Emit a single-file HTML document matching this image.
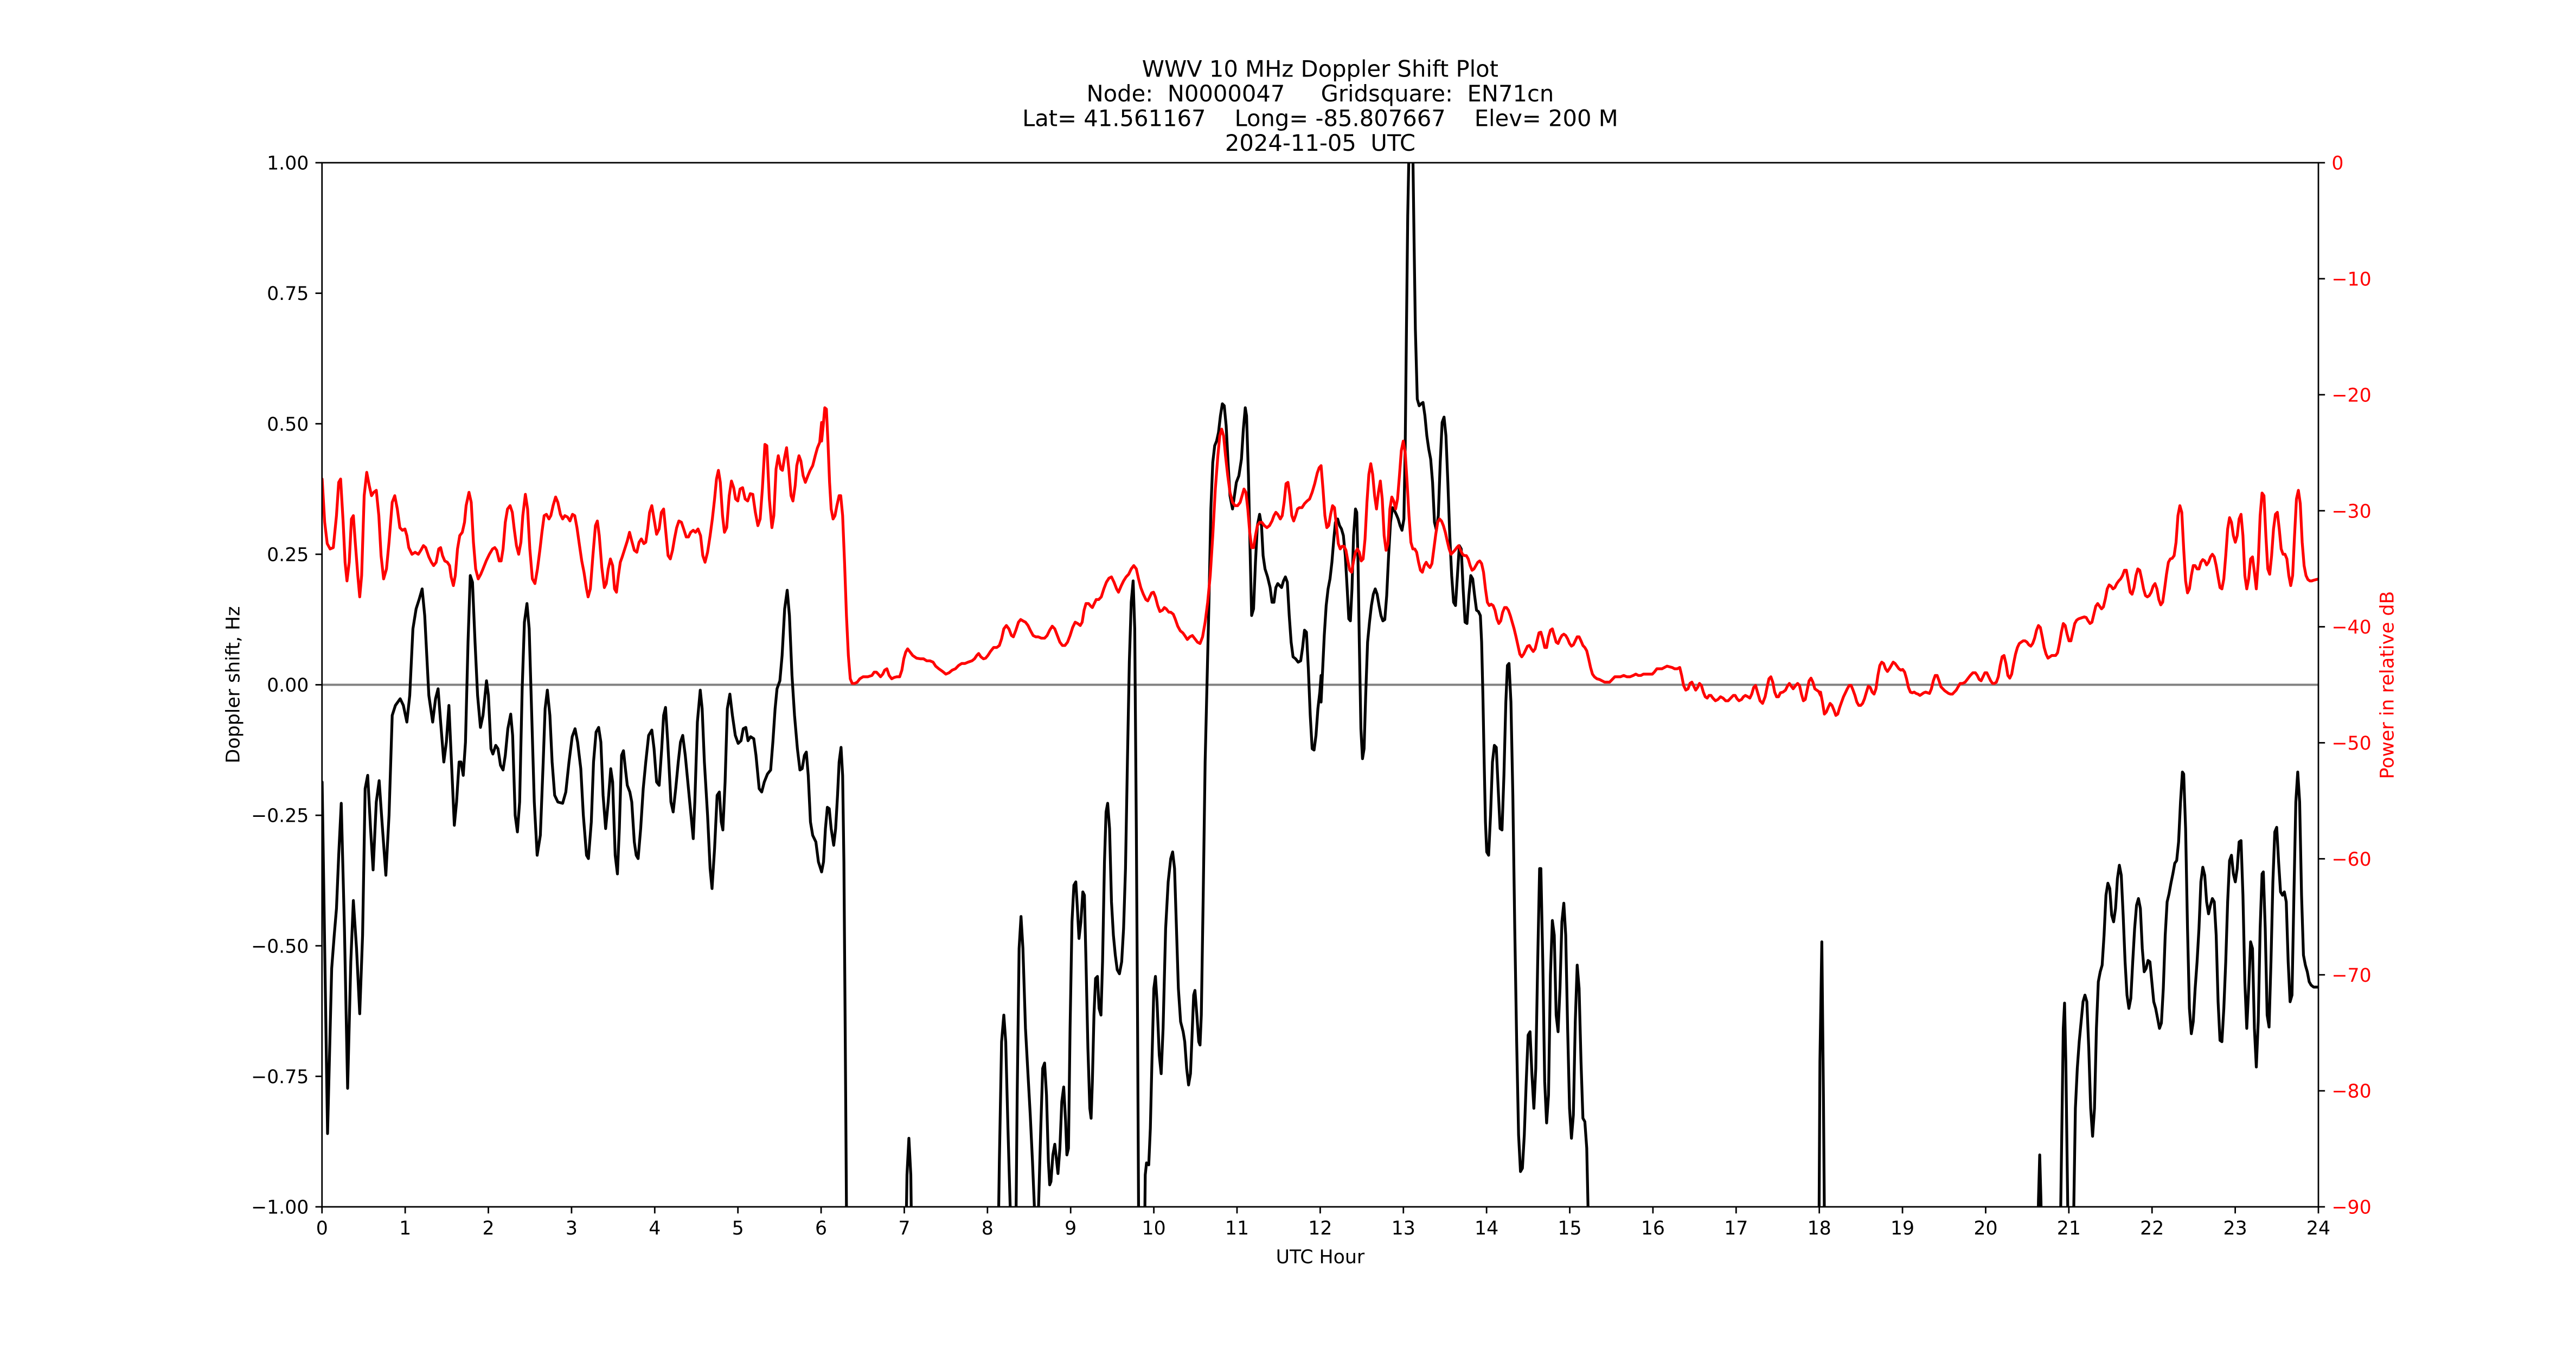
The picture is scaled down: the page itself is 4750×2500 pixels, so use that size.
<!DOCTYPE html>
<html>
<head>
<meta charset="utf-8">
<style>
  html,body{margin:0;padding:0;background:#fff;}
  svg{display:block;}
  text{font-family:"DejaVu Sans","Liberation Sans",sans-serif;white-space:pre;}
  .tk{font-size:34.72px;}
  .ttl{font-size:41.67px;}
  .blk{fill:none;stroke:#000;stroke-width:5.2;stroke-linejoin:round;stroke-linecap:round;}
  .red{fill:none;stroke:#ff0000;stroke-width:5.2;stroke-linejoin:round;stroke-linecap:round;}
</style>
</head>
<body>
<svg width="4750" height="2500" viewBox="0 0 4750 2500" xmlns="http://www.w3.org/2000/svg" xml:space="preserve">
<rect x="0" y="0" width="4750" height="2500" fill="#fff"/>
<defs>
  <clipPath id="ax"><rect x="593.75" y="300" width="3681.25" height="1925"/></clipPath>
</defs>

<!-- Title -->
<text class="ttl" x="2434.4" y="141.5" text-anchor="middle">WWV 10 MHz Doppler Shift Plot</text>
<text class="ttl" x="2434.4" y="187" text-anchor="middle">Node:  N0000047     Gridsquare:  EN71cn</text>
<text class="ttl" x="2434.4" y="232.5" text-anchor="middle">Lat= 41.561167    Long= -85.807667    Elev= 200 M</text>
<text class="ttl" x="2434.4" y="278" text-anchor="middle">2024-11-05  UTC</text>

<g clip-path="url(#ax)">
  <!-- zero line -->
  <line x1="593.75" y1="1262.5" x2="4275" y2="1262.5" stroke="#808080" stroke-width="4"/>

  <!-- Black (Doppler) strips -->
  <g transform="translate(594,300) scale(0.587372,1.227679)">
    <path class="blk" vector-effect="non-scaling-stroke" d="M0,930 L17,1458 30,1210 38,1160 45,1120 52,1040 60,962 70,1150 80,1390 90,1200 98,1108 108,1180 118,1278 127,1160 135,940 143,920 152,1000 160,1062 170,960 179,928 188,990 200,1070 210,980 220,830 230,815 245,805 255,815 266,840 275,800 285,700 295,670 305,655 314,640 322,680 335,800 347,840 356,805 364,790 372,840 382,900 390,870 398,815 406,900 415,995 422,960 430,900 436,900 443,920 450,870 458,720 465,620 472,630 480,720 488,800 497,848 505,830 516,778 522,800 530,880 536,888 545,875 552,880 560,905 568,912 575,890 583,850 592,828 598,860 606,980 613,1005 620,960 628,790 635,690 643,662 650,700 658,830 666,960 675,1040 685,1010 694,900 700,820 707,792 715,830 722,900 730,950 740,960 755,962 765,945 775,900 785,862 794,850 802,870 812,910 820,980 830,1040 836,1045 845,990 852,900 860,855 868,848 875,870 882,950 890,1000 898,960 906,910 912,930 920,1040 927,1068 933,1000 940,890 946,883 952,910 958,935 966,945 972,960 980,1020 986,1040 992,1045 1000,1000 1008,940 1016,900 1025,860 1035,852 1042,880 1050,930 1058,935 1066,880 1072,830 1078,818 1085,870 1095,960 1102,975 1110,940 1118,900 1125,870 1132,860 1140,890 1150,940 1158,980 1165,1015 1170,960 1178,840 1187,792 1193,820 1200,900 1210,980 1218,1060 1224,1090 1232,1030 1240,950 1247,945 1253,990 1258,1002 1265,930 1272,820 1280,798 1288,830 1297,860 1306,872 1315,868 1322,850 1330,848 1337,868 1345,862 1355,865 1362,890 1372,940 1380,945 1388,930 1398,918 1408,912 1415,870 1422,820 1428,790 1437,778 1444,740 1452,670 1460,642 1467,680 1475,770 1483,830 1492,880 1500,912 1507,910 1514,890 1520,885 1526,920 1533,990 1540,1010 1550,1020 1558,1050 1568,1065"/>
  </g>
  <g transform="translate(1515,300) scale(0.587372,1.227679)">
    <path class="blk" vector-effect="non-scaling-stroke" d="M0,1065 L6,1050 12,1000 18,968 24,970 30,1000 38,1025 44,1000 50,950 55,900 61,878 66,920 70,1050 74,1300 78,1568 80,1700 262,1700 268,1520 274,1465 280,1520 285,1700 552,1700 558,1500 565,1320 572,1280 578,1320 585,1450 592,1568 598,1700 608,1700 614,1400 620,1180 626,1132 632,1180 640,1300 648,1370 655,1430 662,1500 668,1568 675,1650 681,1568 688,1450 694,1360 700,1352 706,1400 712,1500 716,1535 720,1530 726,1490 732,1474 738,1500 742,1518 748,1480 754,1410 760,1388 766,1440 770,1490 775,1480 780,1300 786,1140 792,1085 798,1080 803,1120 808,1165 814,1140 820,1095 825,1100 830,1200 836,1330 842,1420 846,1435 850,1380 855,1280 860,1225 866,1222 871,1270 877,1280 882,1200 888,1050 893,975 898,962 904,1000 910,1110 916,1160 922,1190 928,1212 935,1218 942,1200 948,1150 954,1060 960,900 966,750 972,660 978,628 983,700 988,1000 992,1300 995,1568 998,1700 1012,1700 1016,1520 1020,1502 1027,1505 1032,1450 1037,1350 1043,1240 1048,1222 1053,1260 1060,1340 1066,1368 1072,1300 1080,1150 1088,1080 1096,1045 1102,1035 1108,1060 1114,1150 1120,1240 1127,1290 1135,1305 1140,1320 1146,1360 1152,1385 1158,1368 1163,1310 1168,1250 1172,1243 1178,1280 1184,1320 1188,1325 1192,1280 1198,1100 1204,900 1210,780 1216,660 1222,520 1228,450 1234,425 1240,418 1246,405 1252,380 1258,362 1264,365 1270,395 1276,450 1282,500 1290,520 1296,500 1302,480 1310,470 1318,445 1324,400 1330,368 1334,380 1340,470 1346,600 1350,680 1356,670 1362,600 1368,545 1375,528 1381,545 1386,590 1392,610 1400,622 1408,638 1414,660 1420,660 1426,638 1432,632 1438,635 1444,638 1450,628 1456,622 1462,630 1468,680 1474,720 1480,742 1488,745 1496,750 1504,748 1510,728 1516,702 1522,705 1528,760 1534,830 1540,880 1546,882 1552,860 1558,820 1564,795 1568,770"/>
  </g>
  <g transform="translate(2436,300) scale(0.587372,1.227679)">
    <path class="blk" vector-effect="non-scaling-stroke" d="M0,810 L5,760 10,710 16,665 22,640 28,625 34,600 40,565 45,540 52,535 58,545 64,550 70,560 76,590 82,640 87,685 92,688 97,640 102,560 108,520 112,525 116,600 120,720 125,850 130,895 135,880 140,800 146,720 152,690 158,665 164,648 170,640 176,648 182,665 188,680 194,688 200,686 206,650 212,590 218,540 224,518 230,522 236,528 242,535 248,545 254,552 260,535 264,430 268,250 272,80 276,-20 280,-60 285,-60 288,-20 292,120 296,250 302,355 308,365 314,362 320,360 326,380 332,410 338,430 344,445 350,480 356,540 362,552 368,530 374,450 380,390 386,382 392,410 398,480 404,560 410,620 416,660 422,665 428,620 434,575 440,580 446,640 452,690 458,692 464,650 470,620 476,625 482,650 488,672 494,674 500,680 504,720 508,800 512,900 516,990 520,1035 526,1040 532,980 538,900 544,875 550,878 556,940 562,1000 568,1002 574,920 580,810 585,755 590,752 596,810 602,950 608,1150 614,1320 620,1460 626,1515 632,1510 638,1460 644,1380 650,1310 656,1305 662,1370 668,1420 674,1360 680,1200 686,1060 690,1060 696,1200 702,1380 708,1442 714,1400 720,1220 726,1138 732,1160 738,1280 744,1305 750,1240 756,1140 762,1112 768,1160 774,1300 780,1420 786,1465 792,1430 798,1290 804,1205 810,1240 816,1350 822,1435 828,1440 834,1480 838,1568 842,1700"/>
  </g>
  <g transform="translate(3357,300) scale(0.587372,1.227679)">
    <path class="blk" vector-effect="non-scaling-stroke" d="M-6,1700 L-2,1350 4,1170 9,1400 14,1700 680,1700 684,1560 688,1490 692,1560 696,1700 750,1700 756,1500 762,1300 766,1262 770,1350 776,1568 780,1700 790,1700 795,1568 800,1420 806,1360 812,1320 818,1290 824,1260 830,1250 836,1260 842,1330 848,1420 854,1462 860,1420 866,1300 872,1230 878,1215 884,1205 890,1160 896,1100 902,1082 908,1090 914,1130 920,1140 926,1120 932,1075 938,1055 944,1070 950,1130 956,1200 962,1250 968,1270 974,1255 980,1200 986,1150 992,1115 998,1105 1004,1120 1010,1180 1016,1215 1022,1210 1028,1198 1034,1200 1040,1230 1046,1260 1052,1270 1058,1285 1064,1300 1070,1292 1076,1240 1082,1160 1088,1110 1094,1098 1100,1082 1106,1068 1112,1052 1118,1048 1124,1020 1130,960 1136,915 1140,918 1146,1000 1152,1150 1158,1270 1164,1308 1170,1290 1176,1240 1182,1200 1188,1150 1194,1080 1200,1058 1206,1070 1212,1110 1218,1128 1224,1115 1230,1105 1236,1110 1242,1160 1248,1260 1254,1318 1260,1320 1266,1270 1272,1200 1278,1110 1284,1048 1290,1040 1296,1068 1302,1080 1308,1060 1314,1020 1320,1018 1326,1100 1332,1230 1338,1300 1344,1240 1350,1170 1356,1180 1362,1300 1368,1358 1374,1290 1380,1150 1386,1068 1390,1065 1396,1150 1402,1280 1408,1298 1414,1200 1420,1080 1426,1005 1432,998 1438,1050 1444,1095 1450,1100 1456,1095 1462,1110 1468,1200 1474,1260 1480,1250 1486,1100 1492,960 1498,915 1504,960 1510,1100 1516,1190 1522,1205 1528,1215 1534,1230 1540,1235 1548,1238 1556,1238 1564,1238"/>
  </g>

  <!-- Red (power) strips -->
  <g transform="translate(594,300) scale(0.587372,1.227679)">
    <path class="red" vector-effect="non-scaling-stroke" d="M0,475 L8,540 16,572 25,580 35,578 45,530 52,480 58,475 66,540 72,600 78,628 85,600 92,535 98,530 104,570 112,620 118,652 124,620 132,500 140,465 148,485 155,500 162,495 170,492 178,530 185,590 193,625 202,610 210,570 220,510 228,500 236,520 244,548 252,552 260,550 266,560 272,578 282,588 292,585 302,588 310,582 318,575 325,578 335,592 343,600 350,605 358,600 366,580 372,578 378,590 385,598 393,600 400,605 405,622 412,635 418,620 425,580 432,560 440,555 447,540 452,515 461,495 468,510 475,570 482,610 490,625 498,618 505,610 515,598 525,588 535,580 542,578 548,582 556,598 562,598 568,580 575,540 582,520 590,515 597,525 603,550 610,575 617,588 624,570 630,530 638,498 645,520 652,580 660,625 668,632 676,610 684,580 690,555 697,530 704,528 712,535 718,530 725,515 733,502 740,510 748,528 755,535 762,530 770,532 778,538 786,528 793,530 800,548 808,575 815,598 822,615 830,640 835,652 842,640 850,590 858,545 864,538 870,560 878,608 886,638 892,632 898,610 905,595 912,605 918,640 924,645 930,620 936,600 942,592 950,580 958,568 965,555 972,568 980,582 988,585 995,570 1002,565 1010,572 1016,570 1022,550 1028,525 1035,515 1042,535 1050,558 1058,550 1065,525 1072,520 1078,550 1086,590 1093,595 1100,582 1106,565 1113,548 1120,538 1128,540 1135,550 1143,562 1150,562 1157,555 1165,552 1172,555 1180,550 1188,560 1195,590 1202,600 1210,585 1218,560 1225,535 1232,505 1238,475 1244,462 1250,480 1257,530 1263,555 1270,548 1278,500 1285,478 1292,488 1298,505 1305,508 1312,490 1320,488 1328,505 1336,508 1344,497 1352,498 1360,525 1368,545 1375,535 1382,490 1390,423 1396,425 1404,505 1412,548 1418,530 1425,460 1432,440 1440,460 1445,462 1452,442 1458,428 1465,460 1472,500 1478,508 1485,485 1490,455 1497,440 1503,448 1510,470 1517,480 1525,470 1532,462 1540,455 1548,440 1555,428 1562,420 1568,390"/>
  </g>
  <g transform="translate(1515,300) scale(0.587372,1.227679)">
    <path class="red" vector-effect="non-scaling-stroke" d="M0,418 L5,395 10,368 15,370 20,420 25,480 30,520 36,535 42,530 48,515 55,500 60,500 66,530 72,600 78,680 84,740 90,775 96,782 104,782 112,780 120,775 130,772 145,772 158,770 165,765 172,765 178,768 185,772 192,768 198,762 205,760 212,770 220,775 228,773 236,772 245,772 252,762 258,745 264,735 270,730 278,735 286,740 298,744 310,745 320,745 330,748 340,748 350,750 358,756 368,760 380,764 390,768 400,766 410,762 420,760 430,755 440,752 450,752 460,750 472,748 480,745 487,740 493,737 500,742 508,745 515,744 522,740 530,734 540,728 550,728 558,725 565,715 572,700 580,695 588,700 596,710 602,712 610,702 618,690 625,686 632,688 640,690 648,695 656,703 664,710 672,712 680,712 690,714 700,714 708,710 716,702 724,696 732,700 740,710 748,720 756,725 764,725 772,720 780,710 788,698 796,690 804,692 812,695 818,690 824,672 830,662 838,662 845,666 850,668 856,662 862,656 870,656 878,652 886,640 894,630 902,624 910,622 918,630 926,640 932,645 940,636 948,628 956,622 964,618 972,610 980,605 988,610 995,625 1002,638 1010,648 1018,656 1024,658 1030,652 1036,646 1042,645 1048,652 1055,665 1062,674 1070,672 1076,668 1082,670 1090,675 1096,675 1104,678 1110,685 1118,696 1126,703 1134,706 1140,710 1148,716 1156,712 1164,710 1172,715 1180,720 1188,722 1196,712 1204,690 1212,660 1220,620 1228,560 1236,490 1244,440 1250,410 1256,400 1262,410 1268,440 1275,470 1282,495 1290,510 1298,515 1306,515 1314,510 1320,500 1326,490 1332,495 1338,520 1344,555 1350,578 1356,578 1362,560 1368,545 1375,540 1382,540 1390,545 1398,548 1406,545 1414,538 1420,530 1426,525 1432,528 1440,535 1446,530 1452,510 1458,482 1464,480 1470,500 1476,530 1482,538 1488,530 1494,520 1500,518 1508,518 1516,512 1524,508 1532,505 1540,495 1548,482 1556,466 1562,458 1568,455"/>
  </g>
  <g transform="translate(2436,300) scale(0.587372,1.227679)">
    <path class="red" vector-effect="non-scaling-stroke" d="M0,455 L6,490 12,530 18,548 24,545 30,528 36,515 42,518 48,545 54,572 60,580 66,576 72,576 78,582 84,598 90,612 96,615 102,598 108,585 114,580 120,585 126,598 132,595 138,565 144,510 150,468 156,452 162,468 168,500 174,520 180,495 186,478 192,505 198,560 204,582 210,572 216,520 222,502 228,508 234,520 240,505 246,470 252,432 258,418 264,435 270,480 276,530 282,570 288,580 294,580 300,585 306,600 312,612 318,615 324,605 330,600 336,605 342,608 348,602 354,580 360,558 366,540 372,535 378,538 384,545 390,555 396,568 402,580 408,588 414,585 420,582 426,578 432,575 438,582 444,588 450,590 456,590 462,595 468,605 474,612 480,610 486,605 492,600 498,598 504,602 510,615 516,640 522,660 528,665 534,663 540,665 546,672 552,685 558,692 564,688 570,675 576,668 582,668 588,672 594,680 600,690 606,700 612,712 618,725 624,738 630,742 636,738 642,732 648,726 654,725 660,730 666,734 672,730 678,718 684,706 690,705 696,715 702,728 708,728 714,712 720,702 726,700 732,710 738,720 744,722 750,715 756,710 762,708 768,710 774,715 780,722 786,726 792,724 798,718 804,712 810,712 816,718 822,725 828,728 834,733 840,745 846,758 852,768 858,772 866,775 874,776 882,778 890,780 898,780 906,780 914,776 922,772 930,772 940,772 950,770 960,772 970,772 980,770 988,768 996,770 1004,770 1012,768 1020,768 1030,768 1040,768 1046,765 1054,760 1062,760 1070,760 1078,758 1086,756 1094,757 1102,758 1110,760 1118,760 1126,758 1132,770 1138,785 1145,792 1152,790 1158,782 1164,780 1170,786 1176,792 1182,788 1188,782 1194,785 1200,795 1206,802 1212,804 1218,800 1224,800 1230,804 1238,808 1246,806 1254,802 1262,804 1270,808 1278,808 1286,804 1294,800 1300,800 1306,805 1312,808 1320,806 1326,802 1332,800 1340,802 1346,804 1352,798 1358,788 1364,785 1370,795 1378,808 1386,812 1394,802 1400,788 1406,775 1412,772 1418,780 1424,795 1430,802 1436,802 1442,796 1450,795 1458,792 1464,786 1470,782 1476,786 1482,790 1490,785 1496,782 1502,785 1508,798 1514,808 1520,806 1526,792 1532,778 1538,774 1544,780 1550,790 1556,792 1562,794 1568,800"/>
  </g>
  <g transform="translate(3357,300) scale(0.587372,1.227679)">
    <path class="red" vector-effect="non-scaling-stroke" d="M0,795 L6,810 12,828 18,825 24,818 30,812 36,815 42,822 48,830 54,828 60,818 66,810 72,802 78,796 84,790 90,785 96,785 102,792 108,800 114,810 120,815 126,815 132,812 138,805 144,795 150,786 156,788 162,795 168,798 174,790 180,770 186,755 192,750 198,752 204,760 210,764 216,760 222,755 228,750 234,752 240,756 246,760 252,762 258,761 264,765 270,775 276,788 282,795 288,796 294,795 300,797 306,798 312,800 318,798 324,796 330,795 336,796 342,797 348,790 354,778 360,770 366,770 372,778 378,787 384,790 390,793 396,795 402,797 408,798 414,798 420,795 426,792 432,787 438,782 446,782 454,780 462,775 470,770 478,766 486,766 492,770 498,776 504,778 510,772 516,766 522,766 528,772 534,778 540,782 546,782 552,780 558,772 564,755 570,742 576,740 582,752 588,770 594,774 600,768 606,752 612,738 618,728 624,722 630,720 636,718 642,718 648,720 654,724 660,726 666,722 672,714 678,702 684,695 690,698 696,712 702,728 708,738 714,744 720,742 726,740 732,740 738,740 744,736 750,722 756,705 762,692 768,695 774,708 780,718 786,718 792,705 798,692 804,687 810,685 816,684 822,683 828,682 834,683 840,688 846,692 852,690 858,678 864,666 870,662 876,666 882,670 888,667 894,655 900,640 906,634 912,636 918,640 924,638 930,632 936,628 942,625 948,620 954,612 960,612 966,628 972,645 978,648 984,638 990,620 996,610 1002,612 1008,625 1014,640 1020,650 1026,652 1032,650 1038,645 1044,636 1050,632 1056,640 1062,656 1068,664 1074,660 1080,640 1086,618 1092,600 1098,595 1104,594 1110,590 1116,570 1122,530 1128,515 1134,525 1140,580 1146,628 1152,646 1158,640 1164,620 1170,605 1176,605 1182,610 1188,610 1194,600 1200,596 1206,598 1212,604 1218,600 1224,592 1230,588 1236,592 1242,605 1248,622 1254,638 1260,640 1266,625 1272,590 1278,550 1284,533 1290,540 1296,560 1302,570 1308,560 1314,535 1320,528 1326,560 1332,620 1338,640 1344,625 1350,595 1356,592 1362,615 1368,640 1374,600 1380,530 1386,496 1392,500 1398,560 1404,610 1410,618 1416,590 1422,550 1428,528 1434,525 1440,550 1446,580 1452,588 1458,588 1464,595 1470,620 1476,635 1482,620 1488,560 1494,505 1500,492 1506,512 1512,570 1518,605 1524,620 1530,626 1536,628 1542,628 1548,627 1556,626 1564,625"/>
  </g>
</g>

<!-- Spines -->
<rect x="593.75" y="300" width="3681.25" height="1925" fill="none" stroke="#000" stroke-width="2.78"/>

<!-- Left ticks -->
<g stroke="#000" stroke-width="2.78">
  <line x1="581.6" y1="300" x2="593.75" y2="300"/>
  <line x1="581.6" y1="540.63" x2="593.75" y2="540.63"/>
  <line x1="581.6" y1="781.25" x2="593.75" y2="781.25"/>
  <line x1="581.6" y1="1021.88" x2="593.75" y2="1021.88"/>
  <line x1="581.6" y1="1262.5" x2="593.75" y2="1262.5"/>
  <line x1="581.6" y1="1503.13" x2="593.75" y2="1503.13"/>
  <line x1="581.6" y1="1743.75" x2="593.75" y2="1743.75"/>
  <line x1="581.6" y1="1984.38" x2="593.75" y2="1984.38"/>
  <line x1="581.6" y1="2225" x2="593.75" y2="2225"/>
</g>
<g class="tk" text-anchor="end" fill="#000">
  <text class="tk" x="569.4" y="312.6">1.00</text>
  <text class="tk" x="569.4" y="553.2">0.75</text>
  <text class="tk" x="569.4" y="793.8">0.50</text>
  <text class="tk" x="569.4" y="1034.5">0.25</text>
  <text class="tk" x="569.4" y="1275.1">0.00</text>
  <text class="tk" x="569.4" y="1515.7">−0.25</text>
  <text class="tk" x="569.4" y="1756.3">−0.50</text>
  <text class="tk" x="569.4" y="1997">−0.75</text>
  <text class="tk" x="569.4" y="2237.6">−1.00</text>
</g>

<!-- Right ticks -->
<g stroke="#000" stroke-width="2.78">
  <line x1="4275" y1="300" x2="4287.15" y2="300"/>
  <line x1="4275" y1="513.89" x2="4287.15" y2="513.89"/>
  <line x1="4275" y1="727.78" x2="4287.15" y2="727.78"/>
  <line x1="4275" y1="941.67" x2="4287.15" y2="941.67"/>
  <line x1="4275" y1="1155.56" x2="4287.15" y2="1155.56"/>
  <line x1="4275" y1="1369.44" x2="4287.15" y2="1369.44"/>
  <line x1="4275" y1="1583.33" x2="4287.15" y2="1583.33"/>
  <line x1="4275" y1="1797.22" x2="4287.15" y2="1797.22"/>
  <line x1="4275" y1="2011.11" x2="4287.15" y2="2011.11"/>
  <line x1="4275" y1="2225" x2="4287.15" y2="2225"/>
</g>
<g fill="#ff0000">
  <text class="tk" x="4299.4" y="312.6">0</text>
  <text class="tk" x="4299.4" y="526.5">−10</text>
  <text class="tk" x="4299.4" y="740.4">−20</text>
  <text class="tk" x="4299.4" y="954.3">−30</text>
  <text class="tk" x="4299.4" y="1168.2">−40</text>
  <text class="tk" x="4299.4" y="1382">−50</text>
  <text class="tk" x="4299.4" y="1595.9">−60</text>
  <text class="tk" x="4299.4" y="1809.8">−70</text>
  <text class="tk" x="4299.4" y="2023.7">−80</text>
  <text class="tk" x="4299.4" y="2237.6">−90</text>
</g>

<!-- Bottom ticks -->
<g stroke="#000" stroke-width="2.78">
  <line x1="593.75" y1="2225" x2="593.75" y2="2237.15"/>
  <line x1="747.14" y1="2225" x2="747.14" y2="2237.15"/>
  <line x1="900.52" y1="2225" x2="900.52" y2="2237.15"/>
  <line x1="1053.91" y1="2225" x2="1053.91" y2="2237.15"/>
  <line x1="1207.29" y1="2225" x2="1207.29" y2="2237.15"/>
  <line x1="1360.68" y1="2225" x2="1360.68" y2="2237.15"/>
  <line x1="1514.06" y1="2225" x2="1514.06" y2="2237.15"/>
  <line x1="1667.45" y1="2225" x2="1667.45" y2="2237.15"/>
  <line x1="1820.83" y1="2225" x2="1820.83" y2="2237.15"/>
  <line x1="1974.22" y1="2225" x2="1974.22" y2="2237.15"/>
  <line x1="2127.6" y1="2225" x2="2127.6" y2="2237.15"/>
  <line x1="2280.99" y1="2225" x2="2280.99" y2="2237.15"/>
  <line x1="2434.38" y1="2225" x2="2434.38" y2="2237.15"/>
  <line x1="2587.76" y1="2225" x2="2587.76" y2="2237.15"/>
  <line x1="2741.15" y1="2225" x2="2741.15" y2="2237.15"/>
  <line x1="2894.53" y1="2225" x2="2894.53" y2="2237.15"/>
  <line x1="3047.92" y1="2225" x2="3047.92" y2="2237.15"/>
  <line x1="3201.3" y1="2225" x2="3201.3" y2="2237.15"/>
  <line x1="3354.69" y1="2225" x2="3354.69" y2="2237.15"/>
  <line x1="3508.07" y1="2225" x2="3508.07" y2="2237.15"/>
  <line x1="3661.46" y1="2225" x2="3661.46" y2="2237.15"/>
  <line x1="3814.84" y1="2225" x2="3814.84" y2="2237.15"/>
  <line x1="3968.23" y1="2225" x2="3968.23" y2="2237.15"/>
  <line x1="4121.61" y1="2225" x2="4121.61" y2="2237.15"/>
  <line x1="4275" y1="2225" x2="4275" y2="2237.15"/>
</g>
<g text-anchor="middle" fill="#000">
  <text class="tk" x="593.75" y="2276">0</text>
  <text class="tk" x="747.14" y="2276">1</text>
  <text class="tk" x="900.52" y="2276">2</text>
  <text class="tk" x="1053.91" y="2276">3</text>
  <text class="tk" x="1207.29" y="2276">4</text>
  <text class="tk" x="1360.68" y="2276">5</text>
  <text class="tk" x="1514.06" y="2276">6</text>
  <text class="tk" x="1667.45" y="2276">7</text>
  <text class="tk" x="1820.83" y="2276">8</text>
  <text class="tk" x="1974.22" y="2276">9</text>
  <text class="tk" x="2127.6" y="2276">10</text>
  <text class="tk" x="2280.99" y="2276">11</text>
  <text class="tk" x="2434.38" y="2276">12</text>
  <text class="tk" x="2587.76" y="2276">13</text>
  <text class="tk" x="2741.15" y="2276">14</text>
  <text class="tk" x="2894.53" y="2276">15</text>
  <text class="tk" x="3047.92" y="2276">16</text>
  <text class="tk" x="3201.3" y="2276">17</text>
  <text class="tk" x="3354.69" y="2276">18</text>
  <text class="tk" x="3508.07" y="2276">19</text>
  <text class="tk" x="3661.46" y="2276">20</text>
  <text class="tk" x="3814.84" y="2276">21</text>
  <text class="tk" x="3968.23" y="2276">22</text>
  <text class="tk" x="4121.61" y="2276">23</text>
  <text class="tk" x="4275" y="2276">24</text>
</g>

<!-- Axis labels -->
<text class="tk" x="2434.4" y="2329" text-anchor="middle" fill="#000">UTC Hour</text>
<text class="tk" transform="translate(441.7,1262.5) rotate(-90)" x="0" y="0" text-anchor="middle" fill="#000">Doppler shift, Hz</text>
<text class="tk" transform="translate(4413.3,1263) rotate(-90)" x="0" y="0" text-anchor="middle" fill="#ff0000">Power in relative dB</text>
</svg>
</body>
</html>
